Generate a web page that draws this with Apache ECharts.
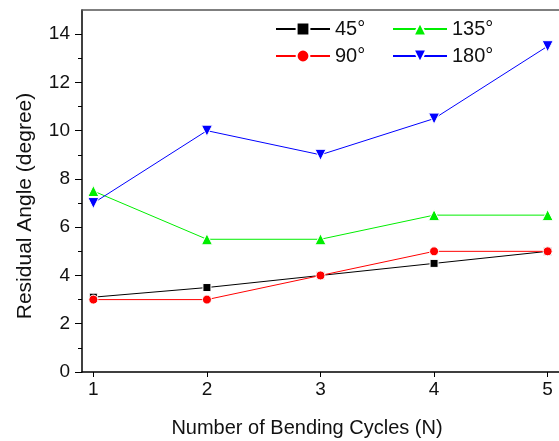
<!DOCTYPE html>
<html>
<head>
<meta charset="utf-8">
<script src="https://cdn.jsdelivr.net/npm/echarts@6/dist/echarts.min.js"></script>
<style>html,body{margin:0;padding:0;background:#fff;}#c{width:559px;height:441px;}</style>
</head>
<body>
<div id="c"></div>
<script>
var cycles = [1, 2, 3, 4, 5];
var s45 = [3.1, 3.5, 4.0, 4.5, 5.0];
var s90 = [3.0, 3.0, 4.0, 5.0, 5.0];
var s135 = [7.5, 5.5, 5.5, 6.5, 6.5];
var s180 = [7.0, 10.0, 9.0, 10.5, 13.5];
var yMajor = [0, 2, 4, 6, 8, 10, 12, 14];
var yMinor = [1, 3, 5, 7, 9, 11, 13];
var xTitle = 'Number of Bending Cycles (N)';
var yTitle = 'Residual Angle (degree)';

function pairs(v) { return cycles.map(function (c, i) { return [c, v[i]]; }); }
var FONT = 'Liberation Sans, Arial, sans-serif';

var chart = echarts.init(document.getElementById('c'));
function mk(name, data, color, symbol, size, rot) {
  return {
    name: name, type: 'line', data: pairs(data), xAxisIndex: 0, yAxisIndex: 0,
    symbol: symbol, symbolSize: size, symbolRotate: rot || 0,
    lineStyle: { color: color, width: 1 },
    itemStyle: { color: color, borderColor: '#fff', borderWidth: 1 },
    emphasis: { disabled: true }, animation: false
  };
}
chart.setOption({
  animation: false,
  grid: { left: 82, right: 0, top: 10, bottom: 69 },
  xAxis: [{
    type: 'value', min: 0.9, max: 5.1, position: 'bottom',
    axisLine: { show: true, onZero: false, lineStyle: { color: '#000', width: 1.5 } },
    axisTick: { show: true, inside: false, length: 5, customValues: cycles, lineStyle: { color: '#000', width: 1 } },
    axisLabel: { customValues: cycles, margin: 8, fontSize: 19, color: '#111', fontFamily: FONT },
    splitLine: { show: false }
  }, {
    type: 'value', min: 0.9, max: 5.1, position: 'top',
    axisLine: { show: true, onZero: false, lineStyle: { color: '#555', width: 1.5 } },
    axisTick: { show: false }, axisLabel: { show: false }, splitLine: { show: false }
  }],
  yAxis: [{
    type: 'value', min: 0, max: 15, position: 'left',
    axisLine: { show: true, onZero: false, lineStyle: { color: '#000', width: 1.5 } },
    axisTick: { show: true, inside: false, length: 7, customValues: yMajor, lineStyle: { color: '#000', width: 1 } },
    axisLabel: { customValues: yMajor, margin: 12, fontSize: 19, color: '#111', fontFamily: FONT },
    splitLine: { show: false }
  }, {
    type: 'value', min: 0, max: 15, position: 'left',
    axisLine: { show: false },
    axisTick: { show: true, inside: false, length: 4, customValues: yMinor, lineStyle: { color: '#000', width: 1 } },
    axisLabel: { show: false }, splitLine: { show: false }
  }],
  legend: [{
    data: ['45°', '90°'], orient: 'vertical', left: 270, top: 14,
    itemWidth: 54, itemHeight: 16, itemGap: 7,
    textStyle: { fontSize: 20, color: '#111', fontFamily: FONT }
  }, {
    data: ['135°', '180°'], orient: 'vertical', left: 387, top: 14,
    itemWidth: 54, itemHeight: 16, itemGap: 7,
    textStyle: { fontSize: 20, color: '#111', fontFamily: FONT }
  }],
  graphic: [{
    type: 'text', x: 307, y: 428,
    style: { text: xTitle, font: '20px ' + FONT, fill: '#111', align: 'center', verticalAlign: 'middle' }
  }, {
    type: 'text', x: 25, y: 206, rotation: Math.PI / 2,
    style: { text: yTitle, font: '21px ' + FONT, fill: '#111', align: 'center', verticalAlign: 'middle' }
  }],
  series: [
    mk('45°', s45, '#000000', 'rect', 8),
    mk('90°', s90, '#ff0000', 'circle', 9),
    mk('135°', s135, '#00ee00', 'triangle', 11),
    mk('180°', s180, '#0000ff', 'triangle', 11, 180)
  ]
});
</script>
</body>
</html>
